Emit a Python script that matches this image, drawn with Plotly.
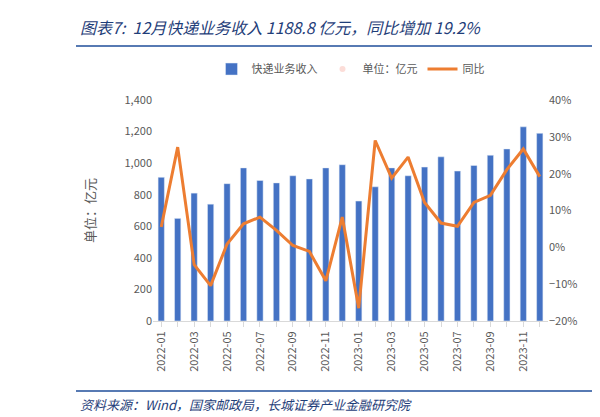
import plotly.graph_objects as go

months = ["2022-01","2022-02","2022-03","2022-04","2022-05","2022-06","2022-07","2022-08","2022-09","2022-10","2022-11","2022-12",
          "2023-01","2023-02","2023-03","2023-04","2023-05","2023-06","2023-07","2023-08","2023-09","2023-10","2023-11","2023-12"]
revenue = [910,650,810,740,870,970,890,875,920,900,970,990,760,850,970,920,975,1040,950,985,1050,1090,1230,1188.8]
yoy = [5.5,27.2,-4.7,-10.4,0.9,6.4,8.2,4.6,0.5,-1.1,-9.1,8.2,-16.5,29.0,18.8,24.5,12.2,6.6,5.7,12.2,14.1,21.1,26.7,19.2]
tick_labels = [m if i % 2 == 0 else "" for i, m in enumerate(months)]

fig = go.Figure()
fig.add_trace(go.Bar(x=months, y=revenue, name="快递业务收入", marker_color="#4472C4", width=0.38))
fig.add_trace(go.Scatter(x=[None], y=[None], mode="markers", marker=dict(opacity=0), name="单位：亿元"))
fig.add_trace(go.Scatter(x=months, y=yoy, name="同比", yaxis="y2", mode="lines",
                         line=dict(color="#ED7D31", width=3)))

fig.update_layout(
    width=600, height=417, margin=dict(l=145, r=60, t=92, b=104),
    paper_bgcolor="white", plot_bgcolor="white",
    font=dict(family="Noto Sans CJK SC", size=11, color="#595959"),
    legend=dict(orientation="h", x=0.5, xanchor="center", y=1.14, yanchor="middle", font=dict(size=11)),
    xaxis=dict(type="category", tickvals=months, ticktext=tick_labels, tickangle=-90,
               showline=True, linecolor="#D9D9D9", ticks="outside", tickcolor="#D9D9D9", ticklen=5),
    yaxis=dict(range=[0,1400], dtick=200, tickformat=",", showgrid=False, zeroline=False,
               title=dict(text="单位：亿元", standoff=25)),
    yaxis2=dict(range=[-20,40], dtick=10, ticksuffix="%", overlaying="y", side="right",
                showgrid=False, zeroline=False),
    bargap=0.5,
)
fig.add_annotation(text="<i>图表7:  12月快递业务收入 1188.8 亿元，同比增加 19.2%</i>", xref="paper", yref="paper",
                   x=-0.19, xanchor="left", y=1.33, yanchor="middle", showarrow=False,
                   font=dict(size=16, color="#1F3E79"))
fig.add_shape(type="line", xref="paper", yref="paper", x0=-0.195, x1=1.127, y0=1.244, y1=1.244,
              line=dict(color="#1F4E9A", width=1.5))
fig.add_shape(type="line", xref="paper", yref="paper", x0=-0.195, x1=1.127, y0=-0.317, y1=-0.317,
              line=dict(color="#1F4E9A", width=1.5))
fig.add_annotation(text="<i>资料来源：Wind，国家邮政局，长城证券产业金融研究院</i>", xref="paper", yref="paper",
                   x=-0.19, xanchor="left", y=-0.325, yanchor="top", showarrow=False,
                   font=dict(size=13, color="#1F3E79"))
fig.write_html("out.html")
